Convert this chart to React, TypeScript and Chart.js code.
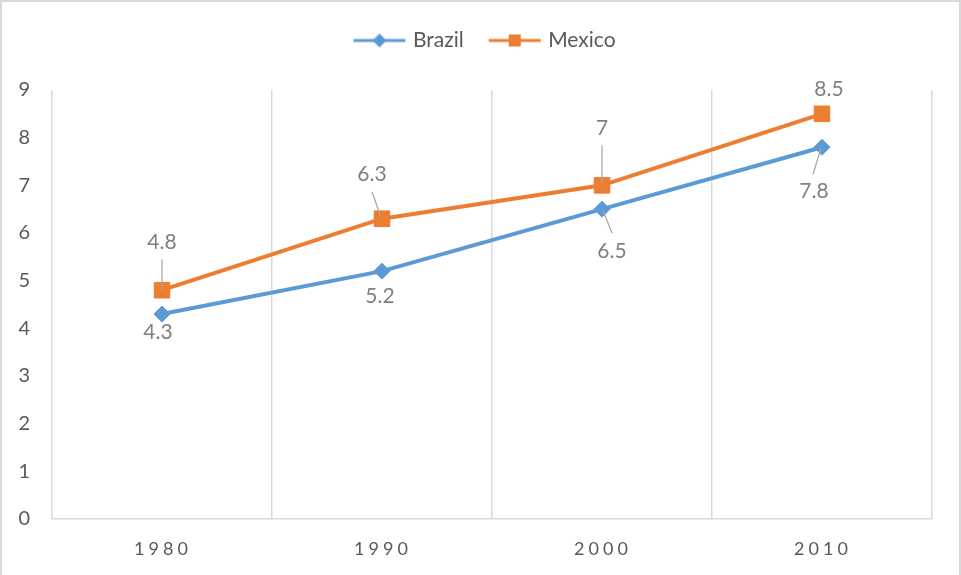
import { useEffect, useRef } from "react";
import { Chart, registerables } from "chart.js";

Chart.register(...registerables);

// ---- data ----
const years = ["1980", "1990", "2000", "2010"];
const brazil = [4.3, 5.2, 6.5, 7.8];
const mexico = [4.8, 6.3, 7, 8.5];
const seriesNames = ["Brazil", "Mexico"];
const yMin = 0;
const yMax = 9;
const yStep = 1;

// ---- styling ----
const BLUE = "#5b9bd5";
const ORANGE = "#ed7d31";
const TEXT = "#595959";
const LABEL_TEXT = "#7f7f7f";
const GRID = "#d9d9d9";
const FONT = "Lato, 'Open Sans', sans-serif";

// where each value label sits relative to its point (px), plus optional leader line
type Placement = { dx: number; dy: number; leader?: [number, number, number, number] };
const placements: Placement[][] = [
  [
    { dx: -4, dy: 18 },
    { dx: -2, dy: 25 },
    { dx: 10, dy: 42, leader: [1, 1, 10, 24] },
    { dx: -8, dy: 44, leader: [-1, 1, -9, 27] },
  ],
  [
    { dx: 0, dy: -48, leader: [0, -31, 0, 0] },
    { dx: -10, dy: -44, leader: [-10, -27, -1, -1] },
    { dx: 0, dy: -57, leader: [0, -40, 0, 0] },
    { dx: 7, dy: -25 },
  ],
];

function legendIcon(kind: "diamond" | "square", color: string): HTMLCanvasElement {
  const c = document.createElement("canvas");
  c.width = 54;
  c.height = 16;
  const g = c.getContext("2d")!;
  g.strokeStyle = color;
  g.lineWidth = 3;
  g.beginPath();
  g.moveTo(1, 8);
  g.lineTo(53, 8);
  g.stroke();
  g.fillStyle = color;
  if (kind === "square") {
    g.fillRect(21, 2, 12, 12);
  } else {
    g.beginPath();
    g.moveTo(27, 1);
    g.lineTo(34, 8);
    g.lineTo(27, 15);
    g.lineTo(20, 8);
    g.closePath();
    g.fill();
  }
  return c;
}

const framePlugin = {
  id: "frame",
  afterInit(chart: any) {
    // reserve the band above the plot for the legend
    const legend = chart.legend;
    if (legend && !legend.__fixedBand) {
      const fit = legend.fit.bind(legend);
      legend.fit = function () {
        fit();
        this.height = 90;
      };
      legend.__fixedBand = true;
    }
  },
  afterLayout(chart: any) {
    // centre the legend over the whole canvas rather than the padded box
    const legend = chart.legend;
    if (legend) {
      legend.left += 20;
      legend.right += 20;
      legend.top += 2;
    }
  },
  beforeDraw(chart: any) {
    const { ctx, width, height } = chart;
    ctx.save();
    ctx.fillStyle = "#ffffff";
    ctx.fillRect(0, 0, width, height);
    ctx.fillStyle = GRID;
    ctx.fillRect(0, 0, 2, height);
    ctx.fillRect(0, 0, width, 2);
    ctx.fillRect(width - 2, 0, 2, height);
    ctx.restore();
  },
  afterDatasetsDraw(chart: any) {
    // category labels along the bottom are drawn after this with wider spacing
    chart.ctx.letterSpacing = "4px";
  },
  afterDraw(chart: any) {
    const ctx = chart.ctx;
    ctx.letterSpacing = "0px";
    ctx.save();
    chart.data.datasets.forEach((ds: any, di: number) => {
      const meta = chart.getDatasetMeta(di);
      meta.data.forEach((pt: any, i: number) => {
        const p = placements[di][i];
        if (p.leader) {
          const [x1, y1, x2, y2] = p.leader;
          ctx.strokeStyle = "#a6a6a6";
          ctx.lineWidth = 1.2;
          ctx.beginPath();
          ctx.moveTo(pt.x + x1, pt.y + y1);
          ctx.lineTo(pt.x + x2, pt.y + y2);
          ctx.stroke();
        }
        ctx.fillStyle = LABEL_TEXT;
        ctx.font = `21px ${FONT}`;
        ctx.textAlign = "center";
        ctx.textBaseline = "middle";
        ctx.fillText(String(ds.data[i]), pt.x + p.dx, pt.y + p.dy);
      });
    });
    ctx.restore();
  },
};

export default function App() {
  const ref = useRef<HTMLCanvasElement | null>(null);

  useEffect(() => {
    document.body.style.margin = "0";
    const canvas = ref.current;
    if (!canvas) return;
    const icons = [legendIcon("diamond", BLUE), legendIcon("square", ORANGE)];

    const chart = new Chart(canvas, {
      type: "line",
      data: {
        labels: years,
        datasets: [
          {
            label: seriesNames[0],
            data: brazil,
            borderColor: BLUE,
            backgroundColor: BLUE,
            borderWidth: 4,
            pointStyle: "rectRot",
            pointRadius: 8,
            pointBorderWidth: 1,
            pointBackgroundColor: BLUE,
            pointBorderColor: BLUE,
            tension: 0,
          },
          {
            label: seriesNames[1],
            data: mexico,
            borderColor: ORANGE,
            backgroundColor: ORANGE,
            borderWidth: 4,
            pointStyle: "rect",
            pointRadius: 11,
            pointBorderWidth: 1,
            pointBackgroundColor: ORANGE,
            pointBorderColor: ORANGE,
            tension: 0,
          },
        ],
      },
      options: {
        responsive: false,
        animation: false,
        devicePixelRatio: 1,
        layout: { padding: { top: 0, left: 0, right: 29, bottom: 0 } },
        plugins: {
          tooltip: { enabled: false },
          legend: {
            position: "top",
            labels: {
              usePointStyle: true,
              pointStyleWidth: 46,
              padding: 28,
              color: TEXT,
              font: { family: FONT, size: 21 },
              generateLabels: (c: any) =>
                c.data.datasets.map((ds: any, i: number) => ({
                  text: ds.label,
                  pointStyle: icons[i],
                  datasetIndex: i,
                  hidden: false,
                  fillStyle: ds.borderColor,
                  strokeStyle: ds.borderColor,
                  lineWidth: 0,
                  fontColor: TEXT,
                })),
            },
          },
        },
        scales: {
          x: {
            offset: true,
            grid: {
              offset: true,
              color: GRID,
              lineWidth: 1.5,
              drawTicks: false,
            },
            border: { display: true, color: GRID, width: 1.5 },
            ticks: {
              z: 1,
              padding: 19,
              labelOffset: 1,
              color: TEXT,
              font: { family: FONT, size: 18 },
            },
            afterFit: (s: any) => {
              s.height = 56;
            },
          },
          y: {
            min: yMin,
            max: yMax,
            grid: { display: false, drawTicks: false },
            border: { display: false },
            ticks: {
              stepSize: yStep,
              padding: 22,
              color: TEXT,
              font: { family: FONT, size: 20 },
            },
            afterFit: (s: any) => {
              s.width = 52;
            },
          },
        },
      },
      plugins: [framePlugin],
    });

    return () => chart.destroy();
  }, []);

  return (
    <div style={{ width: 961, height: 575 }}>
      <canvas ref={ref} width={961} height={575} style={{ display: "block" }} />
    </div>
  );
}
